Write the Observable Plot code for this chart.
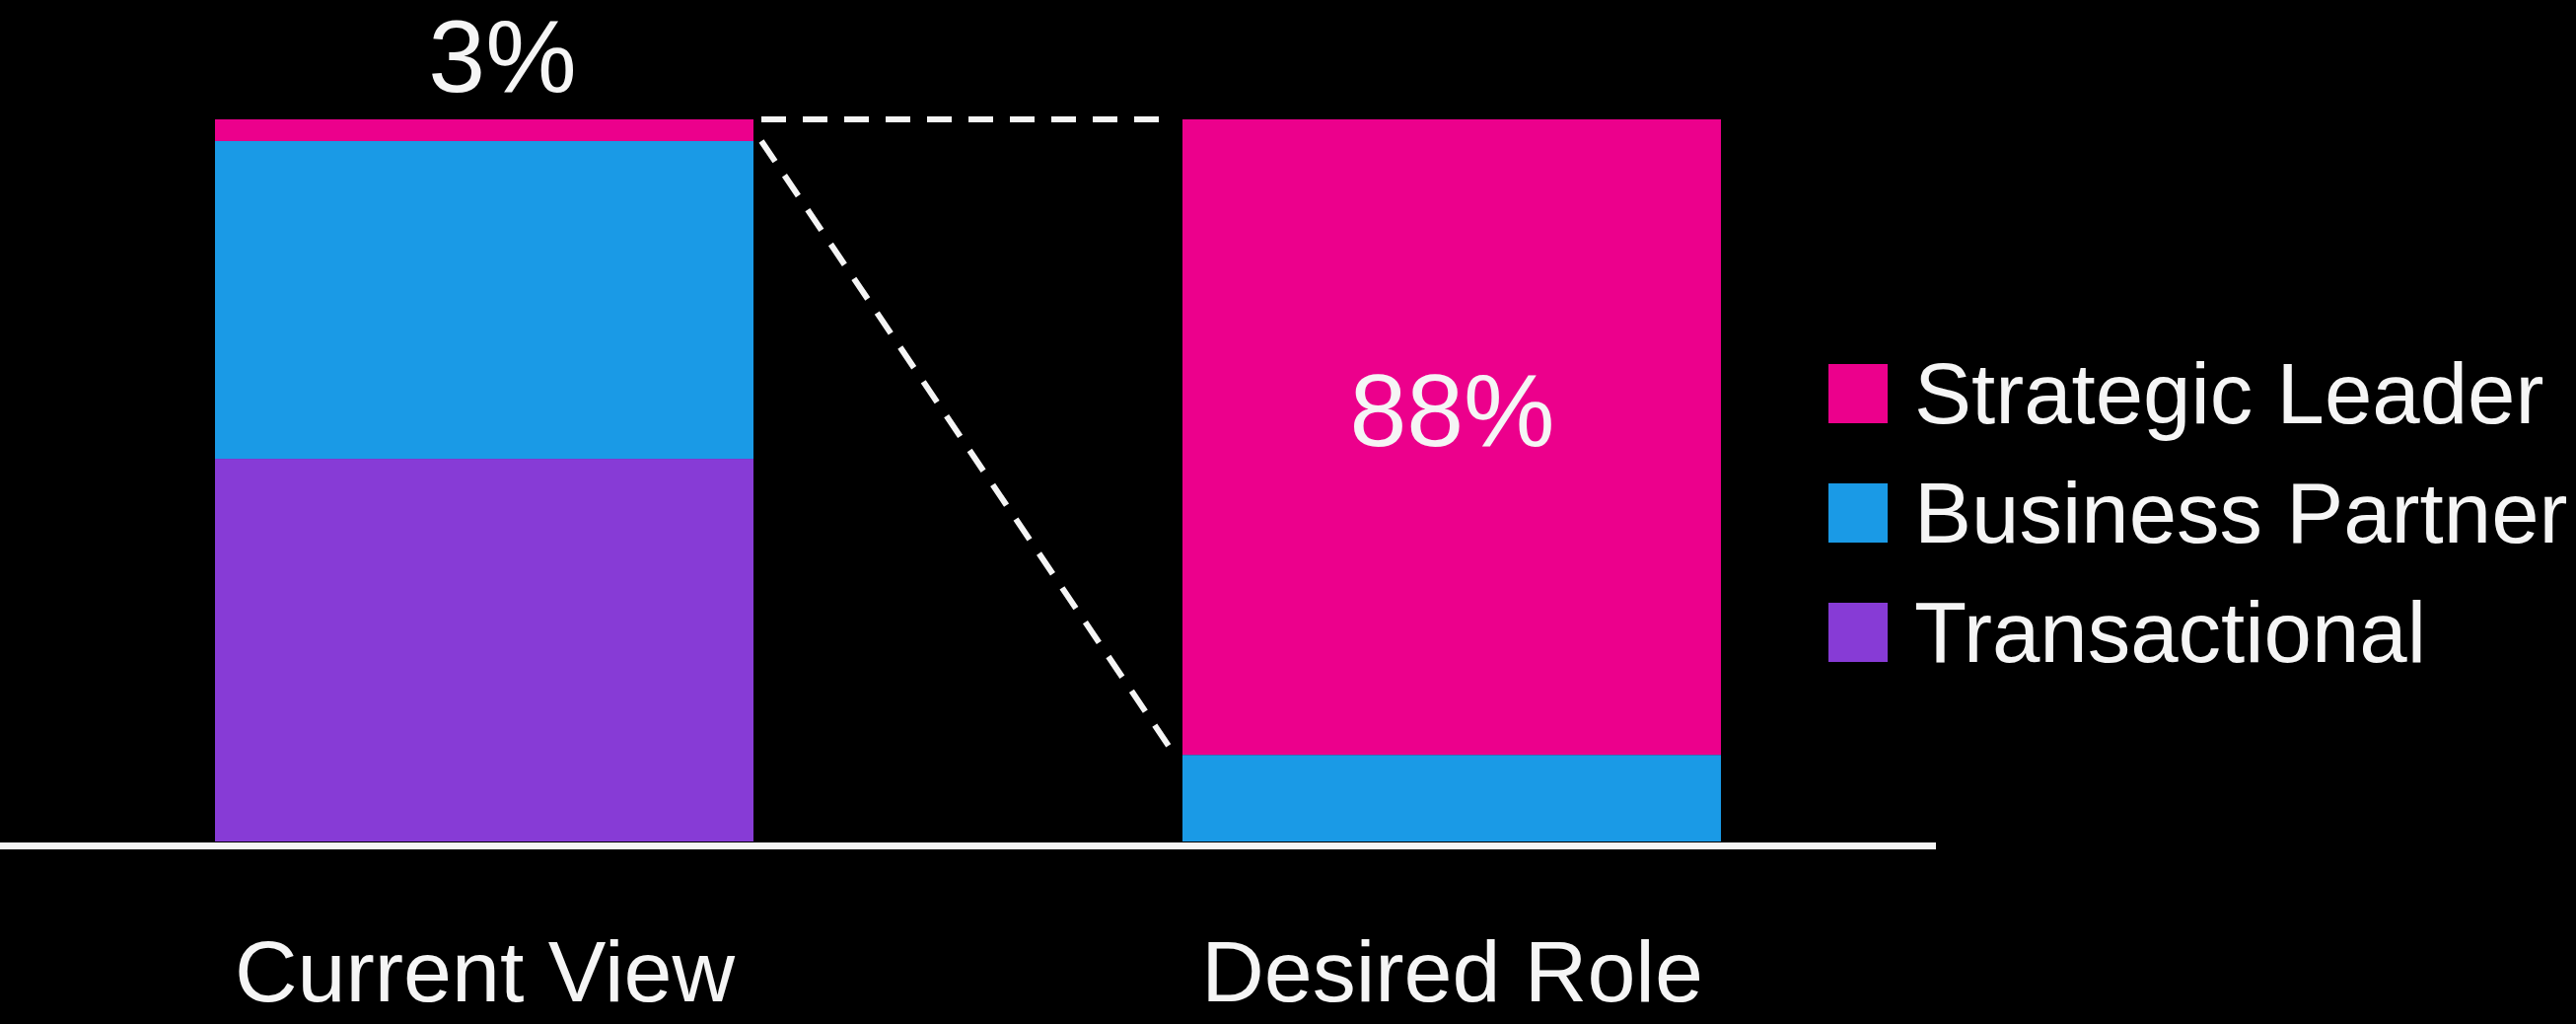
<!DOCTYPE html>
<html><head><meta charset="utf-8">
<script src="https://cdn.jsdelivr.net/npm/d3@7"></script>
<script src="https://cdn.jsdelivr.net/npm/@observablehq/plot@0.6"></script>
<style>
html,body{margin:0;padding:0;background:#000;}
body{width:2612px;height:1038px;overflow:hidden;position:relative;font-family:"Liberation Sans",Arial,sans-serif;}
#chart{position:absolute;left:0;top:0;}
.lg-row{position:absolute;left:1854px;height:90px;line-height:90px;font-size:87px;color:#f5f5f5;white-space:nowrap;}
.lg-sw{position:absolute;left:0;top:15px;width:60px;height:60px;}
.lg-tx{position:absolute;left:87px;top:0;}
</style></head><body><div id="chart"></div><div id="legend"></div>
<script>
const categories = ["Current View", "Desired Role"];
const segments = ["Strategic Leader", "Business Partner", "Transactional"];
const segmentColors = ["#EC008C", "#1A9AE6", "#873BD6"];
const strategicLeader = [3, 88];
const businessPartner = [44, 12];
const transactional = [53, 0];
const valueLabels = ["3%", "88%"];

const rows = [];
categories.forEach((c, i) => {
  rows.push({category: c, segment: "Transactional", value: transactional[i]});
  rows.push({category: c, segment: "Business Partner", value: businessPartner[i]});
  rows.push({category: c, segment: "Strategic Leader", value: strategicLeader[i]});
});
const totals = categories.map((c, i) => transactional[i] + businessPartner[i] + strategicLeader[i]);
const topLabel = [{category: categories[0], y: totals[0], text: valueLabels[0]}];
const innerLabel = [{category: categories[1], y: transactional[1] + businessPartner[1] + strategicLeader[1] / 2, text: valueLabels[1]}];

const white = "#f5f5f5";
const font = "'Liberation Sans', Arial, sans-serif";

const plot = Plot.plot({
  width: 2612,
  height: 1038,
  marginTop: 121,
  marginBottom: 185,
  marginLeft: 0,
  marginRight: 649,
  style: {background: "#000", color: white, fontSize: "88px", fontFamily: font},
  x: {domain: categories, paddingInner: 0.4434, paddingOuter: 0.222, tickSize: 0, tickPadding: 99, label: null},
  y: {domain: [0, 100], axis: null},
  color: {domain: segments, range: segmentColors},
  marks: [
    Plot.barY(rows, {x: "category", y: "value", fill: "segment", order: ["Transactional", "Business Partner", "Strategic Leader"]}),
    Plot.ruleY([0], {stroke: white, strokeWidth: 7, dy: 4}),
    Plot.text(topLabel, {x: "category", y: "y", text: "text", lineAnchor: "bottom", dy: -29, dx: 18, fontSize: 104, fill: white, fontFamily: font}),
    Plot.text(innerLabel, {x: "category", y: "y", text: "text", lineAnchor: "middle", dy: -25, fontSize: 104, fill: white, fontFamily: font})
  ]
});
document.getElementById("chart").appendChild(plot);

// dashed connectors from the Strategic Leader segment of the first bar to the second
const X = plot.scale("x"), Y = plot.scale("y");
const bw = X.bandwidth;
const xa = X.apply(categories[0]) + bw;
const xb = X.apply(categories[1]);
const svg = d3.select(plot);
const conn = [
  [totals[0], totals[1]],
  [totals[0] - strategicLeader[0], totals[1] - strategicLeader[1]]
];
conn.forEach(([ya, yb]) => {
  svg.append("line")
    .attr("x1", xa + 8).attr("y1", Y.apply(ya))
    .attr("x2", xb - 8).attr("y2", Y.apply(yb))
    .attr("stroke", white).attr("stroke-width", 6)
    .attr("stroke-dasharray", "25,17");
});

// legend
const C = plot.scale("color");
const legend = document.getElementById("legend");
segments.forEach((s, i) => {
  const row = document.createElement("div");
  row.className = "lg-row";
  row.style.top = (354 + i * 121) + "px";
  const sw = document.createElement("div");
  sw.className = "lg-sw";
  sw.style.background = C.apply(s);
  const tx = document.createElement("div");
  tx.className = "lg-tx";
  tx.textContent = s;
  row.appendChild(sw); row.appendChild(tx);
  legend.appendChild(row);
});
</script></body></html>
